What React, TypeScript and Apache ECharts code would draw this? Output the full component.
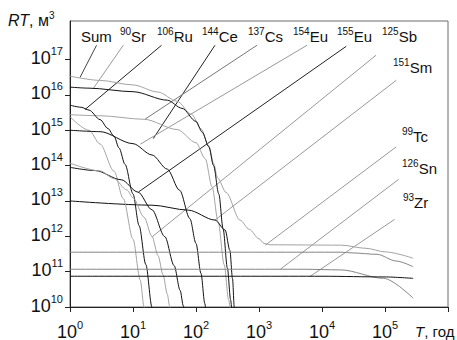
import React, { useEffect, useRef } from 'react';
import * as echarts from 'echarts';

const FONT = 'Arial, "Liberation Sans", Helvetica, sans-serif';

// axis ticks / labels
const xTickValues = [1, 10, 100, 1000, 1e4, 1e5, 1e6];
const xLabelValues = [1, 10, 100, 1000, 1e4, 1e5];
const yTickValues = [1e10, 1e11, 1e12, 1e13, 1e14, 1e15, 1e16, 1e17];

// curves: [T (years), RT (m3)]
const sumCurve = [[1, 3.39e16], [3, 2.57e16], [10, 1.91e16], [25, 1.2e16], [50, 6.61e15], [85, 2.82e15], [120, 1.1e15], [160, 3.63e14], [190, 1.15e14], [220, 4.47e13], [300, 1.74e13], [500, 2.88e12], [700, 1.58e12], [1000, 8.51e11], [1200, 6.31e11], [1500, 5.75e11], [2e4, 5.62e11], [5e4, 4.57e11], [1e5, 3.63e11], [2.8e5, 2.4e11]];
const sr90 = [[1, 1.66e16], [2, 1.55e16], [10, 1.23e16], [35, 7.08e15], [60, 4.17e15], [100, 1.78e15], [125, 8.91e14], [160, 3.39e14], [190, 1e14], [230, 1.58e13], [270, 1.58e12], [315, 1.26e11], [355, 1.58e10], [372, 6.3e9]];
const cs137 = [[1, 2.75e15], [3, 2.57e15], [15, 2.04e15], [50, 1.05e15], [100, 4.47e14], [140, 1.58e14], [180, 2.51e13], [225, 2.51e12], [280, 1.58e11], [330, 1.58e10], [355, 6.3e9]];
const sm151 = [[1, 1e13], [20, 7.59e12], [75, 5.5e12], [200, 2.88e12], [290, 1.51e12], [345, 3.98e11], [380, 6.31e10], [405, 1e10], [420, 6.31e9]];
const ru106 = [[1, 5.13e15], [1.5, 4.47e15], [2, 3.72e15], [3, 2.0e15], [4, 1.12e15], [5, 6.76e14], [6, 3.16e14], [7.5, 1.07e14], [10, 1.58e13], [12.5, 2.0e12], [16, 1.58e11], [20, 1e10], [21, 5e9]];
const ce144 = [[1, 2.4e15], [2, 1e15], [3, 4.07e14], [5, 6.92e13], [7, 1.17e13], [10, 8.32e11], [13, 5.89e10], [15, 1e10], [16, 4e9]];
const eu154 = [[1, 1e15], [3, 9.12e14], [10, 4.17e14], [20, 2e14], [35, 7.94e13], [55, 2e13], [80, 3.16e12], [100, 6.31e11], [120, 8.91e10], [138, 1.26e10], [145, 6.31e9]];
const eu155 = [[1, 8.91e13], [2.5, 7.24e13], [6.5, 3.98e13], [12, 1.78e13], [20, 5.62e12], [32, 9.77e11], [45, 1.48e11], [56, 2.95e10], [63, 1.07e10], [66, 6.92e9]];
const sb125 = [[1, 1.17e14], [3, 7.08e13], [5, 4.27e13], [8, 2.04e13], [10, 1.23e13], [15, 3.47e12], [20, 1e12], [25, 2.82e11], [30, 8.13e10], [35, 2.34e10], [38, 1.1e10], [40, 6.31e9]];
const tc99 = [[1, 3.55e11], [2e4, 3.55e11], [3e4, 3.39e11], [7.5e4, 3.09e11], [1.5e5, 2e11], [2.8e5, 1.38e11]];
const sn126 = [[1, 1.17e11], [5e3, 1.17e11], [2e4, 1.12e11], [9.5e4, 6.46e10], [2.8e5, 1.78e10]];
const zr93 = [[1, 7.41e10], [1e4, 7.41e10], [1e5, 7.08e10], [2.8e5, 6.46e10]];

// leader lines: label end -> curve end, in data units
const leaderSum = [[2.64, 2.53e17], [1.44, 3.1e16]];
const leaderSr = [[7.01, 2.53e17], [2.34, 1.51e16]];
const leaderRu = [[28.4, 2.53e17], [1.73, 3.85e15]];
const leaderCe = [[200, 2.53e17], [21, 5.83e14]];
const leaderCs = [[929, 2.53e17], [15.5, 2.05e15]];
const leaderEu154 = [[5780, 2.53e17], [13.1, 4.04e14]];
const leaderEu155 = [[2.43e4, 2.37e17], [12.3, 1.81e13]];
const leaderSb = [[7.19e4, 1.32e17], [19.9, 9.51e11]];
const leaderSm = [[1.51e5, 2.59e16], [200, 2.87e12]];
const leaderTc = [[1.51e5, 3.39e14], [1259, 5.62e11]];
const leaderSn = [[1.64e5, 4.06e13], [2178, 1.17e11]];
const leaderZr = [[1.42e5, 3.01e12], [6516, 7.41e10]];

// label texts: [mass number, symbol]
const labelTexts = [
  ['', 'Sum'], ['90', 'Sr'], ['106', 'Ru'], ['144', 'Ce'], ['137', 'Cs'], ['154', 'Eu'],
  ['155', 'Eu'], ['125', 'Sb'], ['151', 'Sm'], ['99', 'Tc'], ['126', 'Sn'], ['93', 'Zr'],
];
// layout (pixels) for those labels
const labelLayout = [
  [81, 36], [120, 36], [157, 36], [202, 36], [248, 36], [293, 36],
  [337, 36], [382, 36], [393, 67], [402, 136], [402, 168], [403, 202],
];

const BLACK = '#111';
const GRAY = '#a3a3a3';
const GRAY2 = '#858585';

export default function App() {
  const ref = useRef<HTMLDivElement>(null);
  useEffect(() => {
    if (!ref.current) return;
    const chart = echarts.init(ref.current, undefined, { renderer: 'svg' });

    const curve = (name: string, data: number[][], color: string) => ({
      name, type: 'line', data, symbol: 'none', showSymbol: false, silent: true,
      smooth: 0.3, smoothMonotone: 'x', clip: true,
      lineStyle: { width: 1, color }, z: 3,
    });
    const leader = (name: string, data: number[][], color: string) => ({
      name, type: 'line', data, symbol: 'none', showSymbol: false, silent: true,
      clip: true, lineStyle: { width: 1, color }, z: 2,
    });

    const supRich = {
      m: { fontSize: 15, lineHeight: 20, fontFamily: FONT, fill: '#111', color: '#111' },
      s: { fontSize: 10, lineHeight: 10, verticalAlign: 'top', fontFamily: FONT, fill: '#111', color: '#111' },
    };

    const labels = labelTexts.map((t, i) => ({
      type: 'text',
      x: labelLayout[i][0],
      y: labelLayout[i][1],
      silent: true,
      style: {
        text: (t[0] ? `{s|${t[0]}}` : '') + `{m|${t[1]}}`,
        rich: supRich,
        fill: '#111',
        fontFamily: FONT,
        fontSize: 15,
        align: 'left',
        verticalAlign: 'middle',
      },
    }));

    const tickRich = {
      b: { fontSize: 18, lineHeight: 25, fontFamily: FONT, color: '#111' },
      s: { fontSize: 11, lineHeight: 11, verticalAlign: 'top', fontFamily: FONT, color: '#111' },
    };
    const fmt = (v: number) => `{b|10}{s|${Math.round(Math.log10(v))}}`;

    chart.setOption({
      animation: false,
      grid: {
        left: 70, right: 9, top: 21, bottom: 33,
        show: true, borderColor: '#6a6a6a', borderWidth: 1,
        outerBoundsMode: 'none',
      },
      xAxis: {
        type: 'log', logBase: 10, min: 1, max: 1e6,
        axisLine: { lineStyle: { color: '#222', width: 1 } },
        axisTick: { show: true, length: 5, customValues: xTickValues, lineStyle: { color: '#222' } },
        axisLabel: { customValues: xLabelValues, formatter: fmt, rich: tickRich, margin: 12, color: '#111' },
        splitLine: { show: false },
        minorTick: { show: false },
      },
      yAxis: {
        type: 'log', logBase: 10, min: 1e10, max: 1.23e18,
        axisLine: { lineStyle: { color: '#222', width: 1 } },
        axisTick: { show: true, length: 5, customValues: yTickValues, lineStyle: { color: '#222' } },
        axisLabel: { customValues: yTickValues, formatter: fmt, rich: tickRich, margin: 7, color: '#111', padding: [0, 0, 3, 0] },
        splitLine: { show: false },
        minorTick: { show: false },
      },
      graphic: [
        ...labels,
        {
          type: 'text', x: 8, y: 20, silent: true,
          style: {
            text: '{i|RT}{m|, м}{s|3}',
            rich: {
              i: { fontSize: 16, lineHeight: 20, fontStyle: 'italic', fontFamily: FONT, fill: '#111' },
              m: { ...supRich.m, fontSize: 16 }, s: supRich.s,
            },
            fill: '#111', fontFamily: FONT, fontSize: 16, align: 'left', verticalAlign: 'middle',
          },
        },
        {
          type: 'text', x: 415, y: 331, silent: true,
          style: {
            text: '{i|T}{m|, год}',
            rich: {
              i: { fontSize: 15, lineHeight: 20, fontStyle: 'italic', fontFamily: FONT, fill: '#111' },
              m: supRich.m,
            },
            fill: '#111', fontFamily: FONT, fontSize: 15, align: 'left', verticalAlign: 'middle',
          },
        },
      ],
      series: [
        leader('lSum', leaderSum, '#444'),
        leader('lSr', leaderSr, '#999'),
        leader('lRu', leaderRu, '#222'),
        leader('lCe', leaderCe, '#222'),
        leader('lCs', leaderCs, '#777'),
        leader('lEu154', leaderEu154, '#999'),
        leader('lEu155', leaderEu155, '#222'),
        leader('lSb', leaderSb, '#999'),
        leader('lSm', leaderSm, '#999'),
        leader('lTc', leaderTc, '#999'),
        leader('lSn', leaderSn, '#999'),
        leader('lZr', leaderZr, '#999'),
        curve('Sum', sumCurve, GRAY),
        curve('90Sr', sr90, BLACK),
        curve('137Cs', cs137, GRAY),
        curve('151Sm', sm151, BLACK),
        curve('106Ru', ru106, BLACK),
        curve('144Ce', ce144, GRAY),
        curve('154Eu', eu154, BLACK),
        curve('155Eu', eu155, BLACK),
        curve('125Sb', sb125, GRAY),
        curve('99Tc', tc99, GRAY2),
        curve('126Sn', sn126, GRAY2),
        curve('93Zr', zr93, BLACK),
      ],
    });
    return () => chart.dispose();
  }, []);

  return (
    <div
      ref={ref}
      style={{ position: 'fixed', left: 0, top: 0, width: 457, height: 340, background: '#fff' }}
    />
  );
}
